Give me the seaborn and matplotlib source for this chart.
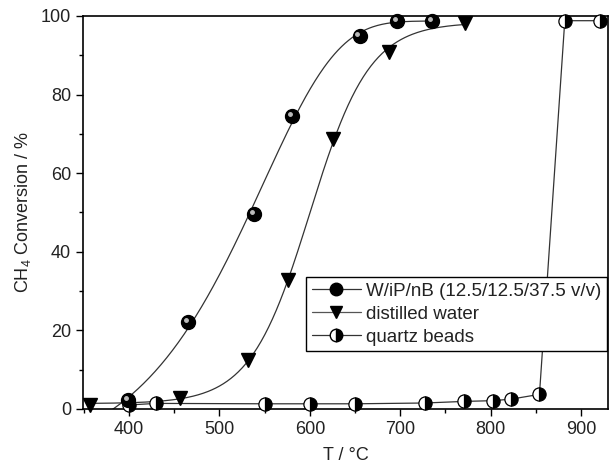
import numpy as np
import matplotlib
matplotlib.use("Agg")
import matplotlib.pyplot as plt
import seaborn as sns
from matplotlib.lines import Line2D

# --- DATA ---
wip_T = [399, 465, 538, 580, 655, 696, 735]
wip_conv = [2.3, 22.0, 49.7, 74.6, 94.8, 98.8, 98.8]

water_T = [357, 456, 532, 576, 626, 687, 772]
water_conv = [1.0, 2.8, 12.5, 32.7, 68.8, 90.9, 98.3]

quartz_T = [400, 430, 550, 600, 650, 727, 770, 803, 823, 854, 882, 921]
quartz_conv = [1.0, 1.4, 1.3, 1.3, 1.3, 1.5, 1.9, 2.1, 2.5, 3.7, 98.8, 98.8]

labels = ["W/iP/nB (12.5/12.5/37.5 v/v)", "distilled water", "quartz beads"]
# -------------------------------------


def logistic(u):
    return 1 / (1 + np.exp(-u))


def cloglog(u):
    return 1 - np.exp(-np.exp(u))


def sigmoid_fit(x, y, x_start, x_end):
    # fit y = a1 + (a2-a1)*f((x-x0)/dx) for two sigmoid shapes,
    # grid over x0, dx; plateaus by linear least squares; keep the best
    x = np.asarray(x, float)
    y = np.asarray(y, float)
    best = None
    for f in (logistic, cloglog):
        for x0 in np.arange(450, 700, 1.0):
            for dx in np.arange(10, 120, 0.5):
                s = f((x - x0) / dx)
                M = np.column_stack([1 - s, s])
                coef, *_ = np.linalg.lstsq(M, y, rcond=None)
                err = np.sum((M @ coef - y) ** 2)
                if best is None or err < best[0]:
                    best = (err, f, x0, dx, coef)
    _, f, x0, dx, (a1, a2) = best
    xs = np.linspace(x_start, x_end, 300)
    s = f((xs - x0) / dx)
    return xs, a1 * (1 - s) + a2 * s


sns.set_theme(style="ticks")
plt.rcParams["font.family"] = ["Liberation Sans", "DejaVu Sans"]
plt.rcParams["mathtext.fontset"] = "custom"
plt.rcParams["mathtext.rm"] = "Liberation Sans"

fig = plt.figure(figsize=(6.1, 4.7), dpi=100)
ax = fig.add_axes([0.136, 0.13, 0.861, 0.836])

line_kw = dict(color="#333333", lw=0.9)

# fitted curves
xs, ys = sigmoid_fit(wip_T, wip_conv, 352, 735)
sns.lineplot(x=xs, y=ys, ax=ax, **line_kw)
xs, ys = sigmoid_fit(water_T, water_conv, 355, 772)
sns.lineplot(x=xs, y=ys, ax=ax, **line_kw)

# quartz: straight segments
sns.lineplot(x=quartz_T, y=quartz_conv, ax=ax, sort=False, **line_kw)

# markers
ax.plot(quartz_T, quartz_conv, ls="none", marker="o", ms=9.5,
        fillstyle="right", markerfacecolor="black",
        markerfacecoloralt="white", markeredgecolor="black",
        markeredgewidth=0.9, clip_on=False, zorder=4)
ax.plot(water_T, water_conv, ls="none", marker="v", ms=10,
        color="black", clip_on=False, zorder=5)
ax.plot(wip_T, wip_conv, ls="none", marker="o", ms=10,
        color="black", clip_on=False, zorder=6)
# little highlight on the "ball" markers
ax.plot(wip_T, wip_conv, ls="none", marker="o", ms=2.5,
        color="#bbbbbb", clip_on=False, zorder=7,
        transform=ax.transData + matplotlib.transforms.ScaledTranslation(
            -1.5 / 72, 1.5 / 72, fig.dpi_scale_trans))

ax.set_xlim(349, 930)
ax.set_ylim(0, 100)
ax.set_xticks([400, 500, 600, 700, 800, 900])
ax.set_xticks(np.arange(350, 931, 50), minor=True)
ax.set_yticks([0, 20, 40, 60, 80, 100])
ax.set_yticks(np.arange(0, 101, 10), minor=True)

ax.tick_params(axis="both", which="major", direction="out", length=5,
               width=1, labelsize=13, color="black", labelcolor="#222222")
ax.tick_params(axis="both", which="minor", direction="out", length=3,
               width=1, color="black")
for s in ax.spines.values():
    s.set_color("black")
    s.set_linewidth(1.2)

ax.set_xlabel("T / °C", fontsize=13, color="#222222", labelpad=7)
ax.set_ylabel("CH$_4$ Conversion / %", fontsize=13, color="#222222",
              labelpad=6)

handles = [
    Line2D([], [], color="#333333", lw=0.9, marker="o", ms=9,
           markerfacecolor="black", markeredgecolor="black"),
    Line2D([], [], color="#555555", lw=0.9, marker="v", ms=9,
           markerfacecolor="black", markeredgecolor="black"),
    Line2D([], [], color="#333333", lw=0.9, marker="o", ms=9,
           fillstyle="right", markerfacecolor="black",
           markerfacecoloralt="white", markeredgecolor="black"),
]
leg = ax.legend(handles, labels, loc="upper right",
                bbox_to_anchor=(0.998, 0.335), borderaxespad=0,
                fontsize=13.5, frameon=True, fancybox=False,
                framealpha=1, edgecolor="black", handlelength=2.6,
                handletextpad=0.3, labelspacing=0.3, borderpad=0.3)
leg.get_frame().set_linewidth(1.0)
for t in leg.get_texts():
    t.set_color("#222222")

fig.savefig("out.png", dpi=100)
